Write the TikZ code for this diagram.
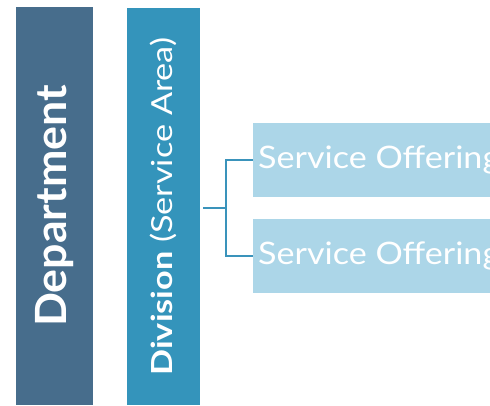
\documentclass[tikz,border=0pt]{standalone}
\usepackage{fontspec}
\setmainfont{Lato}
\newfontfamily\deptfont[FakeStretch=1.04]{Lato}
\newfontfamily\divfont[FakeStretch=1.18]{Lato}
\newfontfamily\svcfont[FakeStretch=1.1]{Lato}
\definecolor{deptc}{HTML}{476D8C}
\definecolor{divc}{HTML}{3494BB}
\definecolor{svcc}{HTML}{ACD6E8}
\definecolor{linec}{HTML}{3A93BB}
\begin{document}
\begin{tikzpicture}[x=1pt,y=-1pt,
  vbar/.style={rotate=90, inner sep=0pt, text=white},
  svcbox/.style={fill=svcc, minimum width=250pt, minimum height=74pt, inner sep=0pt, anchor=west},
  svctext/.style={text=white, font=\svcfont\fontsize{31}{36}\selectfont, anchor=west, inner sep=0pt},
  conn/.style={draw=linec, line width=2pt}]
\useasboundingbox (0,0) rectangle (490,405);
\node[vbar, fill=deptc, minimum width=398pt, minimum height=77pt, font=\deptfont\bfseries\fontsize{43}{48}\selectfont] (dept) at (54.5,206) {Department};
\node[vbar, fill=divc, minimum width=397pt, minimum height=73pt, font=\divfont\fontsize{29}{34}\selectfont] (div) at (163.5,206.5) {\textbf{Division} (Service Area)};
\node[svcbox] (s1) at (253,160) {};
\node[svcbox] (s2) at (253,255.5) {};
\node[svctext] (t1) at (258,160) {Service Offering};
\node[svctext] (t2) at (258,255.5) {Service Offering};
\coordinate (j) at (226,208);
\coordinate (st) at (203,208);
\draw[conn] (st) -- (j);
\draw[conn] (s1.west) -| (j) |- (s2.west);
\end{tikzpicture}
\end{document}
